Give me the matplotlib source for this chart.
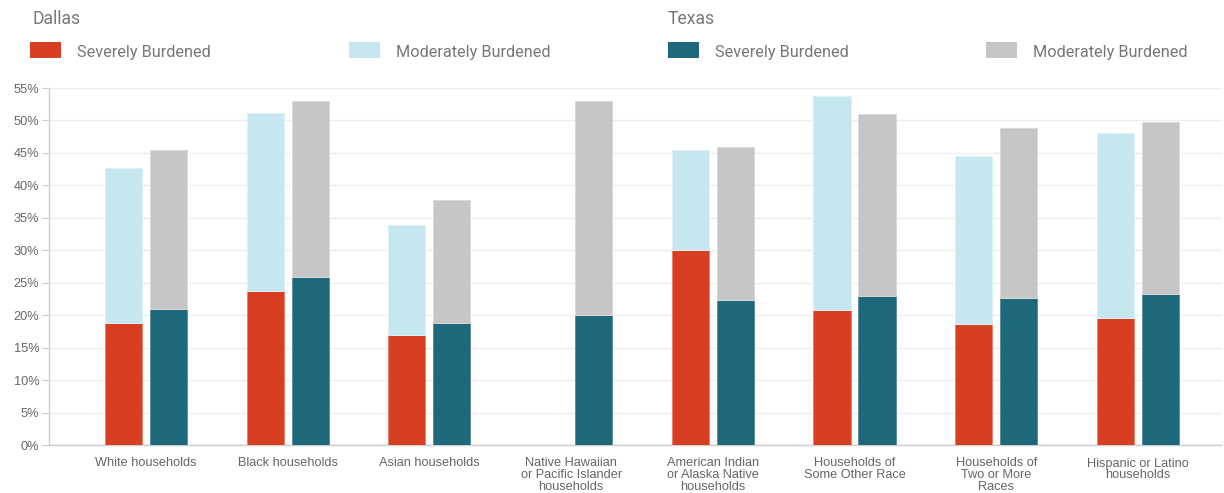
import matplotlib
matplotlib.use("Agg")
import matplotlib.pyplot as plt
from matplotlib.patches import Rectangle
import numpy as np

categories = [
    "White households",
    "Black households",
    "Asian households",
    "Native Hawaiian\nor Pacific Islander\nhouseholds",
    "American Indian\nor Alaska Native\nhouseholds",
    "Households of\nSome Other Race",
    "Households of\nTwo or More\nRaces",
    "Hispanic or Latino\nhouseholds",
]
dallas_severe = [18.8, 23.8, 16.9, None, 30.0, 20.8, 18.7, 19.6]
dallas_moderate = [23.9, 27.4, 17.0, None, 15.5, 33.0, 25.8, 28.4]
texas_severe = [21.0, 25.9, 18.8, 20.0, 22.4, 23.0, 22.6, 23.2]
texas_moderate = [24.5, 27.1, 19.0, 33.0, 23.5, 28.0, 26.3, 26.6]
y_ticks = [0, 5, 10, 15, 20, 25, 30, 35, 40, 45, 50, 55]

RED = "#D73E22"
LIGHT_BLUE = "#C6E7F0"
TEAL = "#1E687B"
GRAY = "#C6C6C6"
TEXT = "#777777"

W, H = 1224, 493
fig = plt.figure(figsize=(W / 100, H / 100), dpi=100)
ax = fig.add_axes([49 / W, 1 - 445 / H, (1222 - 49) / W, (445 - 88) / H])

x = np.arange(len(categories))
bw = 0.262
off = 0.159


def clean(vals):
    return np.array([np.nan if v is None else v for v in vals], dtype=float)


ds, dm = clean(dallas_severe), clean(dallas_moderate)
ts, tm = clean(texas_severe), clean(texas_moderate)

edge = dict(linewidth=0.7, zorder=3)
ax.bar(x - off, ds, bw, color=RED, edgecolor="#E8826F", **edge)
ax.bar(x - off, dm, bw, bottom=ds, color=LIGHT_BLUE, edgecolor="#DDF0F6", **edge)
ax.bar(x + off, ts, bw, color=TEAL, edgecolor="#5E8E9B", **edge)
ax.bar(x + off, tm, bw, bottom=ts, color=GRAY, edgecolor="#DADADA", **edge)

ax.set_ylim(0, 55)
ax.set_xlim((49 - 146) / 141.7, (1222 - 146) / 141.7)
ax.set_yticks(y_ticks)
ax.set_yticklabels([f"{v}%" for v in y_ticks])
ax.set_xticks(x)
ax.set_xticklabels(categories, linespacing=0.97)

tick_family = ["Liberation Sans", "DejaVu Sans"]
for lbl in ax.get_yticklabels():
    lbl.set_fontfamily(tick_family)
    lbl.set_fontsize(9.2)
    lbl.set_color("#666666")
for lbl in ax.get_xticklabels():
    lbl.set_fontfamily(tick_family)
    lbl.set_fontsize(9.2)
    lbl.set_color("#666666")
    lbl.set_verticalalignment("top")

ax.tick_params(axis="y", length=5, width=0.8, color="#CCCCCC", pad=2)
ax.tick_params(axis="x", length=0, pad=9)

ax.grid(axis="y", color="#EEEEEE", linewidth=1, zorder=0)
ax.set_axisbelow(True)
for s in ["top", "right"]:
    ax.spines[s].set_visible(False)
ax.spines["left"].set_color("#CCCCCC")
ax.spines["bottom"].set_color("#CCCCCC")
ax.spines["left"].set_linewidth(1)
ax.spines["bottom"].set_linewidth(1)

# legend headers and swatches, placed in pixel coordinates
def fy(py):
    return 1 - py / H

leg_font = dict(family=["Roboto", "DejaVu Sans"], color=TEXT)
fig.text(32 / W, fy(19), "Dallas", fontsize=12.7, va="center", ha="left", **leg_font)
fig.text(668 / W, fy(19), "Texas", fontsize=12.7, va="center", ha="left", **leg_font)

legend_items = [
    (30, RED, "Severely Burdened"),
    (349, LIGHT_BLUE, "Moderately Burdened"),
    (668, TEAL, "Severely Burdened"),
    (986, GRAY, "Moderately Burdened"),
]
for px, col, label in legend_items:
    fig.add_artist(Rectangle((px / W, fy(57.5)), 31 / W, 15 / H, transform=fig.transFigure,
                             facecolor=col, edgecolor="none"))
    fig.text((px + 47) / W, fy(53), label, fontsize=11.7, va="center", ha="left", **leg_font)

fig.savefig("out.png", dpi=100, facecolor="white")
